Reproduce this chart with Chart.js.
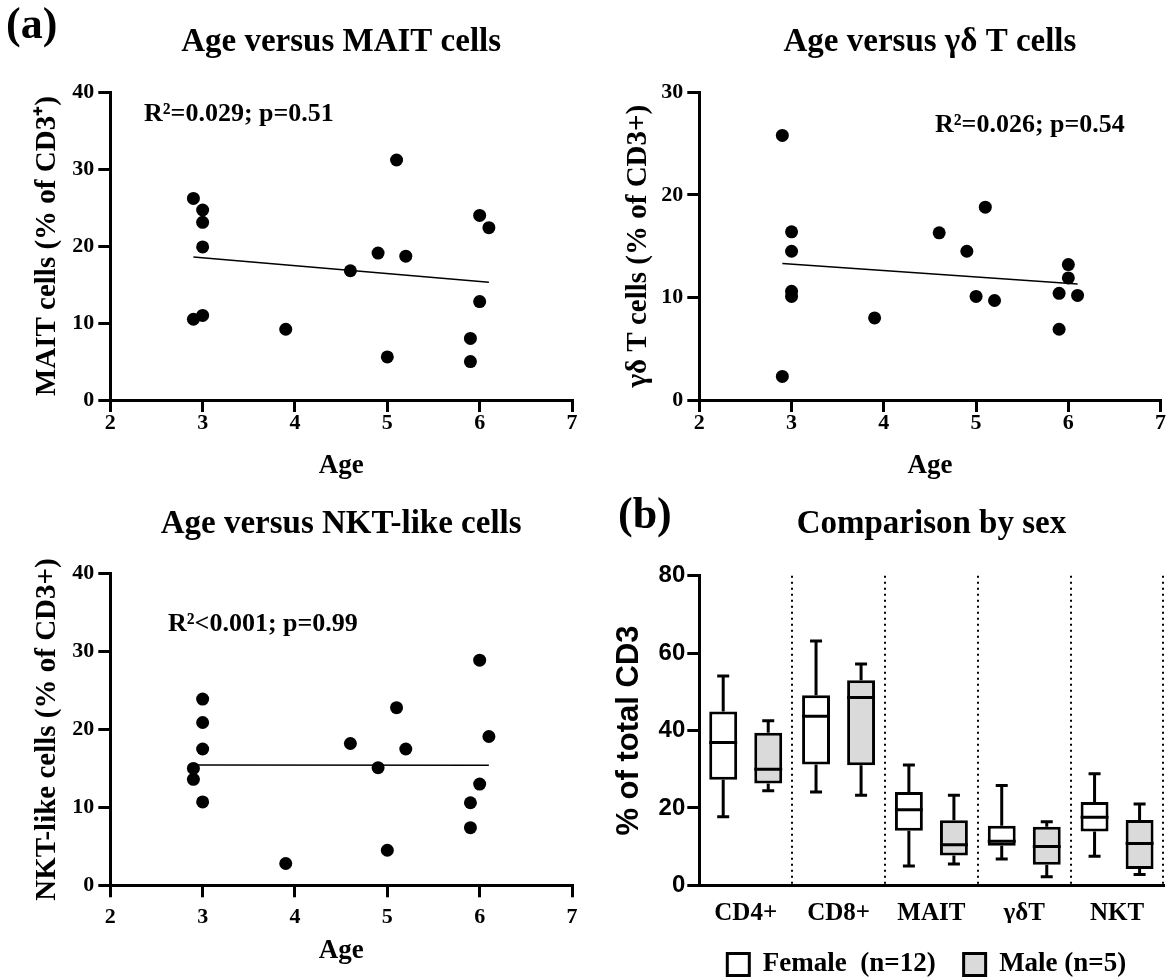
<!DOCTYPE html>
<html>
<head>
<meta charset="utf-8">
<script src="https://cdn.jsdelivr.net/npm/chart.js@4.4.1/dist/chart.umd.min.js"></script>
<style>
html,body{margin:0;padding:0;background:#fff;}
body{width:1171px;height:978px;overflow:hidden;position:relative;font-family:'Liberation Serif','Times New Roman',serif;}
.pane{position:absolute;}
.pane canvas{display:block;}
.lbl{position:absolute;font-weight:bold;line-height:1;white-space:nowrap;color:#000;font-family:'Liberation Serif','Times New Roman',serif;}
</style>
</head>
<body>
<div class="pane" style="left:0;top:0;width:590px;height:480px"><canvas id="c1" width="590" height="480"></canvas></div>
<div class="pane" style="left:590px;top:0;width:581px;height:480px"><canvas id="c2" width="581" height="480"></canvas></div>
<div class="pane" style="left:0;top:480px;width:590px;height:498px"><canvas id="c3" width="590" height="498"></canvas></div>
<div class="pane" style="left:590px;top:480px;width:581px;height:508px"><canvas id="c4" width="581" height="508"></canvas></div>

<div class="lbl" style="left:6px;top:2px;font-size:44px">(a)</div>
<div class="lbl" style="left:618px;top:492px;font-size:44px">(b)</div>
<div class="lbl" style="left:144px;top:100px;font-size:26px">R²=0.029; p=0.51</div>
<div class="lbl" style="left:935px;top:111px;font-size:26px">R²=0.026; p=0.54</div>
<div class="lbl" style="left:168px;top:610px;font-size:26px">R²&lt;0.001; p=0.99</div>

<script>
// ---------- data ----------
const maitAge = [2.9, 3.0, 3.0, 3.0, 2.9, 3.0, 3.9, 4.6, 4.9, 5.1, 5.2, 5.0, 6.0, 6.1, 6.0, 5.9, 5.9];
const maitPct = [26.2, 24.7, 23.1, 19.9, 10.5, 11.0, 9.2, 16.8, 19.1, 31.2, 18.7, 5.6, 24.0, 22.4, 12.8, 8.0, 5.0];
const maitFitAge = [2.9, 6.1];
const maitFitPct = [18.6, 15.3];

const gdAge = [2.9, 2.9, 3.0, 3.0, 3.0, 3.0, 3.9, 4.6, 4.9, 5.1, 5.0, 5.2, 5.9, 5.9, 6.0, 6.0, 6.1];
const gdPct = [25.8, 2.3, 16.4, 14.5, 10.6, 10.1, 8.0, 16.3, 14.5, 18.8, 10.1, 9.7, 10.4, 6.9, 13.2, 11.9, 10.2];
const gdFitAge = [2.9, 6.1];
const gdFitPct = [13.3, 11.3];

const nktAge = [2.9, 2.9, 3.0, 3.0, 3.0, 3.0, 3.9, 4.6, 4.9, 5.1, 5.0, 5.2, 5.9, 5.9, 6.0, 6.0, 6.1];
const nktPct = [15.0, 13.6, 23.9, 20.9, 17.5, 10.7, 2.8, 18.2, 15.1, 22.8, 4.5, 17.5, 10.6, 7.4, 28.9, 13.0, 19.1];
const nktFitAge = [2.9, 6.1];
const nktFitPct = [15.45, 15.4];

const boxCategories = ['CD4+', 'CD8+', 'MAIT', 'γδT', 'NKT'];
const femaleMin    = [17.7, 24.1,  5.0,  6.8,  7.5];
const femaleQ1     = [27.3, 31.2, 14.1, 10.2, 13.9];
const femaleMedian = [36.9, 43.7, 19.5, 11.4, 17.6];
const femaleQ3     = [44.9, 49.1, 24.1, 15.4, 21.5];
const femaleMax    = [54.1, 63.1, 31.1, 25.8, 28.8];
const maleMin      = [24.4, 23.3,  5.5,  2.2,  2.8];
const maleQ1       = [26.3, 31.0,  7.7,  5.3,  4.2];
const maleMedian   = [30.0, 48.5, 10.5, 10.0, 10.8];
const maleQ3       = [39.4, 53.0, 16.8, 15.1, 16.9];
const maleMax      = [42.5, 57.2, 23.3, 16.4, 21.0];

// ---------- styling ----------
const SERIF = "'Liberation Serif', 'Times New Roman', serif";
const SANS = "'Liberation Sans', Arial, sans-serif";
Chart.defaults.color = '#000';
Chart.defaults.font.family = SERIF;
Chart.defaults.font.weight = 'bold';

function scatterConfig(o) {
  return {
    type: 'scatter',
    data: {
      datasets: [
        {
          data: o.age.map((a, i) => ({x: a, y: o.pct[i]})),
          pointRadius: 6.5, pointHoverRadius: 6.5,
          backgroundColor: '#000', borderWidth: 0
        },
        {
          type: 'line',
          data: o.fitAge.map((a, i) => ({x: a, y: o.fitPct[i]})),
          borderColor: '#000', borderWidth: 1.5, pointRadius: 0, fill: false, tension: 0
        }
      ]
    },
    options: {
      responsive: false, animation: false,
      layout: {padding: {left: 0, right: o.padRight, top: 0, bottom: 0}},
      plugins: {
        legend: {display: false},
        tooltip: {enabled: false},
        title: {
          display: true, text: o.title, fullSize: false, color: '#000',
          font: {family: SERIF, size: 33, weight: 'bold', lineHeight: 1},
          padding: {top: o.titleTop, bottom: o.titleBottom}
        }
      },
      scales: {
        x: {
          type: 'linear', min: 2, max: 7,
          ticks: {stepSize: 1, color: '#000', maxRotation: 0,
                  font: {family: SERIF, size: 22, weight: 'bold', lineHeight: 1}, padding: o.xTickPad},
          grid: {drawOnChartArea: false, drawTicks: true, tickLength: 12, lineWidth: 3, color: '#000'},
          border: {display: true, width: 3, color: '#000'},
          title: {display: true, text: 'Age', color: '#000',
                  font: {family: SERIF, size: 27, weight: 'bold', lineHeight: 1},
                  padding: {top: 0, bottom: o.xTitleBottom}},
          afterFit: (s) => { s.height = o.xHeight; }
        },
        y: {
          type: 'linear', min: 0, max: o.yMax,
          ticks: {stepSize: 10, color: '#000',
                  font: {family: SERIF, size: 22, weight: 'bold', lineHeight: 1}, padding: 4},
          grid: {drawOnChartArea: false, drawTicks: true, tickLength: 12, lineWidth: 3, color: '#000'},
          border: {display: true, width: 3, color: '#000'},
          title: {display: true, text: o.yTitle, color: '#000',
                  font: {family: SERIF, size: 29, weight: 'bold', lineHeight: 1},
                  padding: {top: o.yTitlePad, bottom: 0}},
          afterFit: (s) => { s.width = o.yWidth; }
        }
      }
    }
  };
}

new Chart(document.getElementById('c1'), scatterConfig({
  age: maitAge, pct: maitPct, fitAge: maitFitAge, fitPct: maitFitPct,
  title: 'Age versus MAIT cells', yTitle: 'MAIT cells (% of CD3⁺)', yMax: 40,
  padRight: 18, titleTop: 26.3, titleBottom: 33, xHeight: 80, xTickPad: 0.5, xTitleBottom: 0,
  yWidth: 110.3, yTitlePad: 33.5
}));

new Chart(document.getElementById('c2'), scatterConfig({
  age: gdAge, pct: gdPct, fitAge: gdFitAge, fitPct: gdFitPct,
  title: 'Age versus γδ T cells', yTitle: 'γδ T cells (% of CD3+)', yMax: 30,
  padRight: 10.4, titleTop: 26.3, titleBottom: 33, xHeight: 80, xTickPad: 0.5, xTitleBottom: 0,
  yWidth: 109.3, yTitlePad: 34.5
}));

new Chart(document.getElementById('c3'), scatterConfig({
  age: nktAge, pct: nktPct, fitAge: nktFitAge, fitPct: nktFitPct,
  title: 'Age versus NKT-like cells', yTitle: 'NKT-like cells (% of CD3+)', yMax: 40,
  padRight: 18, titleTop: 27.5, titleBottom: 33.2, xHeight: 92.7, xTickPad: 9.2, xTitleBottom: 13.5,
  yWidth: 110.3, yTitlePad: 33.5
}));

// ---------- box plot ----------
const boxStats = [
  {min: femaleMin, q1: femaleQ1, med: femaleMedian, q3: femaleQ3, max: femaleMax},
  {min: maleMin, q1: maleQ1, med: maleMedian, q3: maleQ3, max: maleMax}
];

const whiskerPlugin = {
  id: 'whiskers',
  afterDatasetsDraw(chart) {
    const ctx = chart.ctx;
    const ys = chart.scales.y;
    chart.data.datasets.forEach((ds, di) => {
      const meta = chart.getDatasetMeta(di);
      const s = boxStats[di];
      meta.data.forEach((bar, i) => {
        const x = bar.x, w = bar.width, cap = 6;
        const yMin = ys.getPixelForValue(s.min[i]);
        const yQ1 = ys.getPixelForValue(s.q1[i]);
        const yMed = ys.getPixelForValue(s.med[i]);
        const yQ3 = ys.getPixelForValue(s.q3[i]);
        const yMax = ys.getPixelForValue(s.max[i]);
        ctx.save();
        ctx.strokeStyle = '#000';
        ctx.lineWidth = 3;
        ctx.lineCap = 'butt';
        ctx.beginPath();
        ctx.moveTo(x, yQ3); ctx.lineTo(x, yMax);
        ctx.moveTo(x - cap, yMax); ctx.lineTo(x + cap, yMax);
        ctx.moveTo(x, yQ1); ctx.lineTo(x, yMin);
        ctx.moveTo(x - cap, yMin); ctx.lineTo(x + cap, yMin);
        ctx.moveTo(x - w / 2, yMed); ctx.lineTo(x + w / 2, yMed);
        ctx.stroke();
        ctx.restore();
      });
    });
  }
};

new Chart(document.getElementById('c4'), {
  type: 'bar',
  data: {
    labels: boxCategories,
    datasets: [
      {
        label: 'Female  (n=12)',
        data: femaleQ1.map((q, i) => [q, femaleQ3[i]]),
        backgroundColor: '#ffffff', borderColor: '#000', borderWidth: 3, borderSkipped: false,
        categoryPercentage: 0.97, barPercentage: 0.62
      },
      {
        label: 'Male (n=5)',
        data: maleQ1.map((q, i) => [q, maleQ3[i]]),
        backgroundColor: '#dadada', borderColor: '#000', borderWidth: 3, borderSkipped: false,
        categoryPercentage: 0.97, barPercentage: 0.62
      }
    ]
  },
  options: {
    responsive: false, animation: false,
    layout: {padding: {left: 0, right: 7.5, top: 0, bottom: 0}},
    plugins: {
      tooltip: {enabled: false},
      legend: {
        display: true, position: 'bottom', align: 'start', fullSize: false,
        labels: {color: '#000', font: {family: SERIF, size: 27, weight: 'bold'},
                 boxWidth: 22, boxHeight: 22, padding: 28}
      },
      title: {
        display: true, text: 'Comparison by sex', fullSize: false, color: '#000',
        font: {family: SERIF, size: 33, weight: 'bold', lineHeight: 1},
        padding: {top: 27.5, bottom: 35.2}
      }
    },
    scales: {
      x: {
        ticks: {color: '#000', font: {family: SERIF, size: 25, weight: 'bold', lineHeight: 1}, padding: 15.5},
        grid: {display: true, drawOnChartArea: true, drawTicks: false, offset: true, color: '#000', lineWidth: 2},
        border: {display: true, width: 3, color: '#000', dash: [2, 4]},
        afterFit: (s) => { s.height = 37.7; }
      },
      y: {
        min: 0, max: 80,
        ticks: {stepSize: 20, color: '#000', font: {family: SANS, size: 24, weight: 'bold', lineHeight: 1}, padding: 2},
        grid: {drawOnChartArea: false, drawTicks: true, tickLength: 12, lineWidth: 3, color: '#000'},
        border: {display: true, width: 3, color: '#000'},
        title: {display: true, text: '% of total CD3', color: '#000',
                font: {family: SANS, size: 31, weight: 'bold', lineHeight: 1},
                padding: {top: 23.5, bottom: 0}},
        afterFit: (s) => { s.width = 109.3; }
      }
    }
  },
  plugins: [whiskerPlugin]
});
</script>
</body>
</html>
